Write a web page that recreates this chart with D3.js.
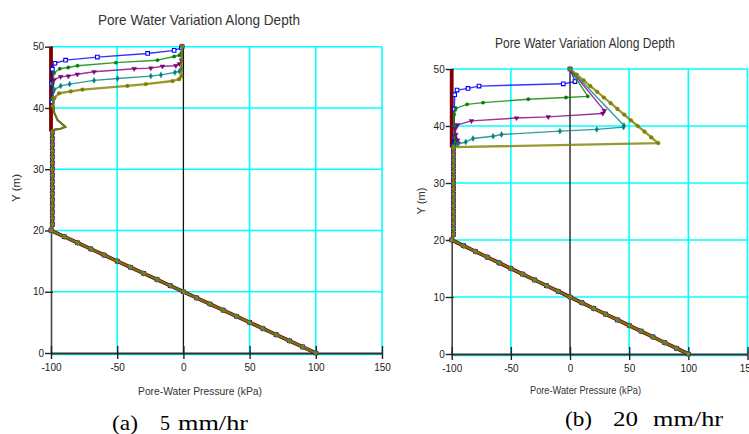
<!DOCTYPE html>
<html><head><meta charset="utf-8">
<script src="https://cdn.jsdelivr.net/npm/d3@7"></script>
<style>body{margin:0;background:#fff;}svg{display:block;}</style>
</head><body><svg id="c" width="749" height="434"></svg>
<script>
// ---------------- DATA ----------------
const xTickValues = [-100, -50, 0, 50, 100, 150];
const yTickValues = [0, 10, 20, 30, 40, 50];
const gridXValues = [-50, 50, 100, 150];
const gridYValues = [10, 20, 30, 40, 50];
const seriesKeys = ["t0", "t1", "t2", "t3", "t4", "t5"];

// shared lower profile (pressure kPa, elevation m)
const lowerElev = [36, 35, 34, 33, 32, 31, 30, 29, 28, 27, 26, 25, 24, 23, 22, 21];
const diagPressure = [-100, -90, -80, -70, -60, -50, -40, -30, -20, -10, 0, 10, 20, 30, 40, 50, 60, 70, 80, 90, 100];
const diagElev = [20, 19, 18, 17, 16, 15, 14, 13, 12, 11, 10, 9, 8, 7, 6, 5, 4, 3, 2, 1, 0];
const lowerPressureA = -99;
const lowerPressureB = -98.5;

// Panel (a) 5 mm/hr : upper profiles [pressure, elevation]
const a_t0 = [[-100, 50], [-100, 36.4]];
const a_t1 = [[-1, 50], [-1.5, 49.8], [-7, 49.4], [-27, 48.9], [-65, 48.3], [-89, 47.8], [-97, 47.3], [-99, 46.3], [-99.5, 44], [-99.2, 41]];
const a_t2 = [[-1, 50], [-1.5, 49], [-3, 48.6], [-7, 48.4], [-19.6, 47.8], [-51, 47.4], [-80, 46.9], [-87, 46.6], [-93.4, 46.4], [-97.7, 45.7], [-98.8, 44], [-99, 41.5]];
const a_t3 = [[-1, 50], [-1.5, 47.8], [-3, 47.2], [-5.7, 46.9], [-15.8, 46.8], [-24.6, 46.5], [-37.2, 46.4], [-67.5, 45.9], [-80.1, 45.5], [-86.9, 45.2], [-92.7, 45.1], [-97.7, 44.6], [-98.8, 42.5]];
const a_t4 = [[-1, 50], [-1.5, 46.4], [-3, 46], [-6.4, 45.8], [-17, 45.4], [-24.6, 45.2], [-49.8, 44.8], [-67.5, 44.5], [-85.9, 43.9], [-92.7, 43.6], [-97.5, 43], [-98.8, 41.5]];
const a_t5 = [[-1, 50], [-1.5, 45.2], [-3.2, 44.7], [-8.2, 44.4], [-28.4, 43.9], [-42.3, 43.6], [-76.3, 43], [-85.1, 42.7], [-93.9, 42.4], [-97.5, 41.6], [-98.8, 40.3]];
const a_bulge = [[-97.5, 39.2], [-95, 38], [-89, 36.9], [-93, 36.6], [-99, 36.4]];

// Panel (b) 20 mm/hr : upper profiles [pressure, elevation]
const b_t0 = [[-100, 50], [-100, 36.5]];
const b_t1 = [[0, 50], [4.2, 47.8], [-5.7, 47.4], [-76.9, 47.0], [-86.2, 46.6], [-95.5, 46.3], [-97.5, 45.5], [-97.8, 43], [-97.8, 40], [-97.5, 38], [-97, 37.2], [-98.5, 36.5]];
const b_t2 = [[0, 50], [15, 45.2], [-3.4, 45.0], [-35.3, 44.7], [-73.5, 44.1], [-87, 43.8], [-96.6, 43.1], [-97.8, 42], [-98, 40], [-97.5, 38], [-96.5, 37.2], [-98.5, 36.5]];
const b_t3 = [[0, 50], [29, 42.7], [27.7, 42.2], [-18.4, 41.6], [-45.2, 41.4], [-83.3, 40.9], [-95.1, 40.2], [-97, 39.5], [-96.5, 38.5], [-95, 37.5], [-94.5, 37], [-98.5, 36.5]];
const b_t4 = [[0, 50], [45.6, 40.1], [45.2, 39.8], [22.6, 39.4], [-8.5, 39.1], [-57.9, 38.5], [-65, 38.2], [-82, 37.8], [-88.1, 37.2], [-95, 36.8], [-98.5, 36.5]];
const b_t5 = [[0, 50], [5.7, 49], [11.5, 48], [17.2, 47], [23, 46], [28.6, 45], [34.4, 44], [40, 43], [45.8, 42], [51.5, 41], [57.2, 40], [63, 39], [68.7, 38], [74.6, 37], [-98.5, 36.3]];

// ---------------- STYLE ----------------
const seriesStyle = {
  t0: {color: "#800000", width: 3.8, symbol: null},
  t1: {color: "#0000ff", width: 1.4, symbol: d3.symbolSquare, size: 13, hollow: true},
  t2: {color: "#008000", width: 1.4, symbol: d3.symbolCircle, size: 9},
  t3: {color: "#800080", width: 1.4, symbol: d3.symbolTriangle, size: 10, rotate: 180},
  t4: {color: "#008080", width: 1.4, symbol: d3.symbolDiamond, size: 10},
  t5: {color: "#808000", width: 2.3, symbol: d3.symbolCircle, size: 11}
};

function buildProfiles(uppers, bulge, lowerP) {
  const vert = lowerElev.map(e => [lowerP, e]);
  const diag = diagPressure.map((p, i) => [p, diagElev[i]]);
  return uppers.map((u, i) => {
    const mid = (i > 0 && bulge) ? bulge : [];
    return {line: u.concat(mid, vert, diag), marks: u.concat(vert, diag)};
  });
}

const svg = d3.select("#c");
const FONT = "'Liberation Sans', Arial, sans-serif";
const SERIF = "'Liberation Serif', 'Times New Roman', serif";
const plainFmt = d => String(d);

function drawPanel(L, profiles) {
  const x = d3.scaleLinear().domain([-100, 150]).range([L.left, L.right]);
  const y = d3.scaleLinear().domain([0, 50]).range([L.bottom, L.top]);
  const g = svg.append("g");

  // grid
  g.selectAll(".gx").data(gridXValues).join("line")
    .attr("x1", d => x(d)).attr("x2", d => x(d))
    .attr("y1", y(0)).attr("y2", y(50))
    .attr("stroke", "#00ffff").attr("stroke-width", 1.6);
  g.selectAll(".gy").data(gridYValues).join("line")
    .attr("x1", x(-100)).attr("x2", x(150))
    .attr("y1", d => y(d)).attr("y2", d => y(d))
    .attr("stroke", "#00ffff").attr("stroke-width", 1.6);
  g.append("line").attr("x1", x(-100)).attr("x2", x(150))
    .attr("y1", y(0) + 1.5).attr("y2", y(0) + 1.5)
    .attr("stroke", "#00ffff").attr("stroke-width", 1.6);
  // zero line
  g.append("line").attr("x1", x(0)).attr("x2", x(0))
    .attr("y1", y(0)).attr("y2", y(50))
    .attr("stroke", "#111").attr("stroke-width", 1.3);

  // axes
  const ya = g.append("g").attr("transform", `translate(${x(-100)},0)`)
    .call(d3.axisLeft(y).tickValues(yTickValues).tickFormat(plainFmt).tickSize(6).tickSizeOuter(0).tickPadding(2));
  ya.select(".domain").attr("stroke", "#444").attr("stroke-width", 1.6);
  ya.selectAll(".tick line").attr("x1", 2).attr("x2", -6).attr("stroke", "#222").attr("stroke-width", 1.4);
  ya.selectAll(".tick text").attr("x", -7).attr("font-family", FONT).attr("font-size", 10).attr("fill", "#222");

  const xa = g.append("g").attr("transform", `translate(0,${y(0)})`)
    .call(d3.axisBottom(x).tickValues(xTickValues).tickFormat(plainFmt).tickSize(6).tickSizeOuter(0));
  xa.select(".domain").attr("stroke", "#333").attr("stroke-width", 2);
  xa.selectAll(".tick line").attr("y1", -7).attr("y2", 6).attr("stroke", "#222").attr("stroke-width", 1.4);
  xa.selectAll(".tick text").attr("y", 18).attr("dy", 0).attr("font-family", FONT).attr("font-size", 10).attr("fill", "#222");

  // series
  const line = d3.line().x(d => x(d[0])).y(d => y(d[1]));
  profiles.forEach((p, i) => {
    const st = seriesStyle[seriesKeys[i]];
    g.append("path").attr("d", line(p.line)).attr("fill", "none")
      .attr("stroke", st.color).attr("stroke-width", st.width)
      .attr("stroke-opacity", i === 0 ? 1 : 0.8).attr("stroke-linejoin", "round");
    if (st.symbol) {
      const sym = d3.symbol().type(st.symbol).size(st.size);
      g.selectAll(null).data(p.marks).join("path")
        .attr("d", sym)
        .attr("transform", d => `translate(${x(d[0])},${y(d[1])})` + (st.rotate ? ` rotate(${st.rotate})` : ""))
        .attr("fill", st.hollow ? "#fff" : st.color)
        .attr("stroke", st.color).attr("stroke-width", st.hollow ? 1.1 : 0.4);
    }
  });

  // texts
  g.append("text").attr("x", L.titleX).attr("y", L.titleY).attr("text-anchor", "middle")
    .attr("font-family", FONT).attr("font-size", 14.5).attr("fill", "#333")
    .attr("textLength", L.titleW).attr("lengthAdjust", "spacingAndGlyphs")
    .text("Pore Water Variation Along Depth");
  g.append("text").attr("transform", `translate(${L.ylabX},${L.ylabY}) rotate(-90)`)
    .attr("text-anchor", "middle").attr("dy", "0.35em")
    .attr("font-family", FONT).attr("font-size", 11).attr("fill", "#333")
    .attr("textLength", L.ylabW).attr("lengthAdjust", "spacingAndGlyphs")
    .text("Y (m)");
  g.append("text").attr("x", L.xlabX).attr("y", L.xlabY).attr("text-anchor", "middle")
    .attr("font-family", FONT).attr("font-size", 10).attr("fill", "#333")
    .attr("textLength", L.xlabW).attr("lengthAdjust", "spacingAndGlyphs")
    .text("Pore-Water Pressure (kPa)");
  L.caption.forEach(c => {
    g.append("text").attr("x", c.x).attr("y", L.capY)
      .attr("font-family", SERIF).attr("font-size", 22).attr("fill", "#000")
      .attr("textLength", c.w).attr("lengthAdjust", "spacingAndGlyphs")
      .text(c.t);
  });
}

drawPanel({left: 51, right: 382, top: 46.7, bottom: 353,
  titleX: 199, titleY: 25, titleW: 202,
  ylabX: 16, ylabY: 188, ylabW: 28,
  xlabX: 200, xlabY: 395, xlabW: 124,
  capY: 430, caption: [{t: "(a)", x: 112, w: 26}, {t: "5", x: 160, w: 10}, {t: "mm/hr", x: 178, w: 70}]},
  buildProfiles([a_t0, a_t1, a_t2, a_t3, a_t4, a_t5], a_bulge, lowerPressureA));

drawPanel({left: 451.7, right: 747.5, top: 69, bottom: 354,
  titleX: 585, titleY: 48, titleW: 180,
  ylabX: 421, ylabY: 201, ylabW: 27,
  xlabX: 585.5, xlabY: 394, xlabW: 111,
  capY: 426, caption: [{t: "(b)", x: 565, w: 27}, {t: "20", x: 613, w: 25}, {t: "mm/hr", x: 653, w: 70}]},
  buildProfiles([b_t0, b_t1, b_t2, b_t3, b_t4, b_t5], null, lowerPressureB));
</script>
</body></html>
